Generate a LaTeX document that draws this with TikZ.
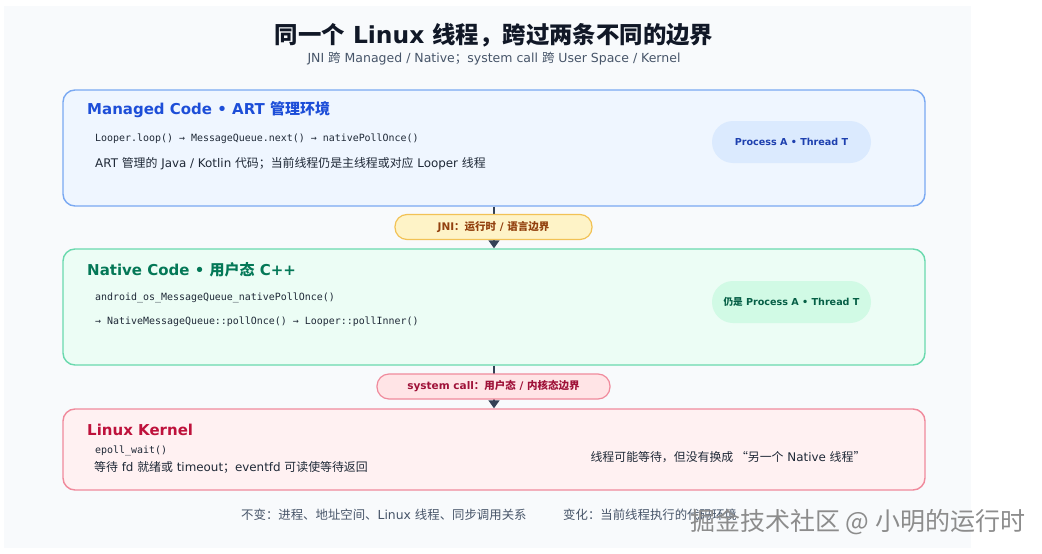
\documentclass[tikz,border=0pt]{standalone}
\usepackage{fontspec}
\setmainfont{DejaVu Sans}
\setmonofont{DejaVu Sans Mono}
\newfontfamily\zhfont{Noto Sans CJK SC}
\newcommand{\cn}[1]{{\zhfont #1}}
\usepackage{xcolor}
\usetikzlibrary{positioning, arrows.meta}

\definecolor{canvas}{HTML}{F8FAFC}
\definecolor{ink}{HTML}{111827}
\definecolor{body}{HTML}{1F2937}
\definecolor{muted}{HTML}{475569}
\definecolor{slate}{HTML}{334155}
\definecolor{blueFill}{HTML}{EFF6FF}
\definecolor{blueLine}{HTML}{7AA9F2}
\definecolor{blueHead}{HTML}{1D4ED8}
\definecolor{bluePill}{HTML}{DBEAFE}
\definecolor{blueText}{HTML}{1E40AF}
\definecolor{greenFill}{HTML}{ECFDF5}
\definecolor{greenLine}{HTML}{6AD9AE}
\definecolor{greenHead}{HTML}{047857}
\definecolor{greenPill}{HTML}{D1FAE5}
\definecolor{greenText}{HTML}{065F46}
\definecolor{redFill}{HTML}{FFF1F2}
\definecolor{redLine}{HTML}{F08A9C}
\definecolor{redHead}{HTML}{BE123C}
\definecolor{redPill}{HTML}{FFE4E6}
\definecolor{redText}{HTML}{9F1239}
\definecolor{amberFill}{HTML}{FEF3C7}
\definecolor{amberLine}{HTML}{F2C255}
\definecolor{amberText}{HTML}{92400E}

\tikzset{
  layer/.style={draw, line width=1.4pt, rounded corners=12pt,
    minimum width=862pt, inner sep=0pt},
  head/.style={anchor=west, inner sep=0pt,
    font=\fontsize{15}{18}\selectfont\bfseries},
  code/.style={anchor=west, inner sep=0pt, text=body,
    font=\fontsize{9.95}{12}\ttfamily},
  note/.style={anchor=west, inner sep=0pt, text=body,
    font=\fontsize{11.9}{14}\selectfont},
  tag/.style={rounded corners=21pt, minimum width=159pt, minimum height=42pt,
    inner sep=0pt, font=\fontsize{9.6}{12}\selectfont\bfseries},
  border/.style={draw, line width=1.2pt, rounded corners=12pt,
    minimum height=25pt, inner sep=0pt, font=\fontsize{10.5}{12}\selectfont\bfseries},
  flow/.style={draw=slate, line width=1.6pt,
    -{Triangle[width=11pt,length=8pt]}}
}

\begin{document}
\begin{tikzpicture}[x=1pt,y=-1pt]
  \useasboundingbox (0,0) rectangle (1042,554);
  \fill[canvas] (4,6) rectangle (971,548);

  \node[inner sep=0pt, text=ink, font=\fontsize{23.4}{28}\selectfont\bfseries] (title) at (494,35)
    {\cn{同一个} Linux \cn{线程，跨过两条不同的边界}};
  \node[inner sep=0pt, text=muted, font=\fontsize{12.5}{15}\selectfont] (subtitle) at (494,59)
    {JNI \cn{跨} Managed / Native\cn{；}system call \cn{跨} User Space / Kernel};

  \node[layer, draw=blueLine, fill=blueFill, minimum height=116pt] (managed) at (494,148) {};
  \node[layer, draw=greenLine, fill=greenFill, minimum height=116pt] (native) at (494,307) {};
  \node[layer, draw=redLine, fill=redFill, minimum height=81pt] (kernel) at (494,449.5) {};

  \draw[flow] (managed.south) -- (native.north);
  \draw[flow] (native.south) -- (kernel.north);

  \node[border, draw=amberLine, fill=amberFill, text=amberText, minimum width=197pt] (jni) at (493.5,227)
    {JNI\cn{：运行时} / \cn{语言边界}};
  \node[border, draw=redLine, fill=redPill, text=redText, minimum width=233pt] (syscall) at (493.5,386.5)
    {system call\cn{：用户态} / \cn{内核态边界}};

  \node[head, text=blueHead] (managedhead) at (87,110) {Managed Code • ART \cn{管理环境}};
  \node[code] (managedcall) at (95,139) {Looper.loop() → MessageQueue.next() → nativePollOnce()};
  \node[note] (managednote) at (95,164)
    {ART \cn{管理的} Java / Kotlin \cn{代码；当前线程仍是主线程或对应} Looper \cn{线程}};
  \node[tag, fill=bluePill, text=blueText] (managedtag) at (791.5,142) {Process A • Thread T};

  \node[head, text=greenHead] (nativehead) at (87,270) {Native Code • \cn{用户态} C++};
  \node[code] (nativecall) at (95,298) {android\_os\_MessageQueue\_nativePollOnce()};
  \node[code] (nativechain) at (95,322) {→ NativeMessageQueue::pollOnce() → Looper::pollInner()};
  \node[tag, fill=greenPill, text=greenText] (nativetag) at (791.5,302) {\cn{仍是} Process A • Thread T};

  \node[head, text=redHead] (kernelhead) at (87,430) {Linux Kernel};
  \node[code] (kernelcall) at (95,451) {epoll\_wait()};
  \node[note] (kernelnote) at (94,467) {\cn{等待} fd \cn{就绪或} timeout\cn{；}eventfd \cn{可读使等待返回}};
  \node[inner sep=0pt, text=body, font=\fontsize{11.9}{14}\selectfont] (kernelside) at (728,457)
    {\cn{线程可能等待，但没有换成 “另一个} Native \cn{线程”}};

  \node[anchor=west, inner sep=0pt, text=muted, font=\fontsize{12.4}{15}\selectfont] (same) at (241,515)
    {\cn{不变：进程、地址空间、}Linux \cn{线程、同步调用关系}};
  \node[anchor=west, inner sep=0pt, text=muted, font=\fontsize{12.4}{15}\selectfont] (changed) at (563,515)
    {\cn{变化：当前线程执行的代码环境}};

  \node[anchor=west, inner sep=0pt, text=black!45, font=\fontsize{25}{30}\zhfont] (mark) at (690,522)
    {掘金技术社区 @ 小明的运行时};
\end{tikzpicture}
\end{document}
